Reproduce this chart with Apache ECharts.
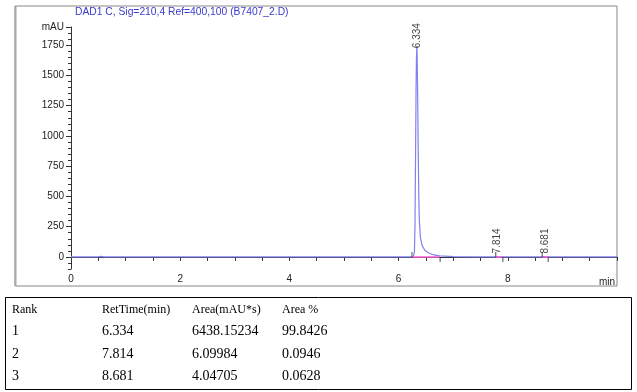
<!DOCTYPE html>
<html><head><meta charset="utf-8">
<script src="https://cdn.jsdelivr.net/npm/echarts@6/dist/echarts.min.js"></script>
<style>html,body{margin:0;padding:0;background:#fff}#c{width:637px;height:392px}</style>
</head><body><div id="c"></div>
<script>
const titleText = 'DAD1 C, Sig=210,4 Ref=400,100 (B7407_2.D)';
const timeMin   = [0, 0.3, 0.5, 0.53, 0.55, 0.57, 0.6, 1.0, 2.0, 3.0, 4.0, 5.0, 6.0, 6.2, 6.27, 6.29, 6.30, 6.31, 6.32, 6.327, 6.334, 6.34, 6.35, 6.36, 6.37, 6.38, 6.40, 6.43, 6.48, 6.55, 6.65, 6.75, 7.0, 7.5, 7.78, 7.814, 7.86, 8.2, 8.63, 8.681, 8.72, 9.0, 9.5, 10.0];
const signalMAU = [0.5, 0.5, 0, -4, 5, -3, 0.5, 1, 0.5, 0.5, 0.5, 0.5, 0.5, 1, 3, 40, 250, 800, 1400, 1650, 1740, 1660, 1300, 850, 500, 300, 160, 95, 55, 32, 16, 8, 3, 1, 0.5, 4, 0.5, 0.5, 0.5, 3, 0.5, 0.5, 1, 0];
const peakRT     = [6.334, 7.814, 8.681];
const peakHeight = [1700, 4, 3];
const intStart   = [6.245, 7.78, 8.63];
const intEnd     = [6.76, 7.91, 8.74];
const yTickValues  = [0, 250, 500, 750, 1000, 1250, 1500, 1750, 1900];
const xLabelValues = [0, 2, 4, 6, 8];
const tableHeader   = ['Rank', 'RetTime(min)', 'Area(mAU*s)', 'Area %'];
const tableRank     = ['1', '2', '3'];
const tableRetTime  = ['6.334', '7.814', '8.681'];
const tableArea     = ['6438.15234', '6.09984', '4.04705'];
const tableAreaPct  = ['99.8426', '0.0946', '0.0628'];

const chart = echarts.init(document.getElementById('c'));
const lineData = timeMin.map((t, i) => [t, signalMAU[i]]);
const pinkSeries = intStart.map((s, i) => ({
  type: 'line', data: [[s, 0], [intEnd[i], 0]], symbol: 'none', silent: true, z: 4,
  lineStyle: { color: '#ff5fd0', width: 1.5 }
}));

const colX = [12, 102, 192, 282];
const rowY = [310, 331, 354, 376];
const tableCols = [tableRank, tableRetTime, tableArea, tableAreaPct];
const graphics = [
  { type: 'rect', shape: { x: 15, y: 6, width: 602, height: 280 }, style: { fill: 'none', stroke: '#888', lineWidth: 1 }, z: 0 },
  { type: 'line', shape: { x1: 15.5, y1: 6, x2: 15.5, y2: 286 }, style: { stroke: '#aaa', lineWidth: 2 } },
  { type: 'rect', shape: { x: 5.5, y: 297.5, width: 626, height: 92 }, style: { fill: 'none', stroke: '#000', lineWidth: 1 } },
  { type: 'text', x: 615, y: 282, style: { text: 'min', font: '10px "Liberation Sans", Arial', fill: '#222', align: 'right', verticalAlign: 'middle' } }
];
tableHeader.forEach((h, c) => graphics.push({ type: 'text', x: colX[c], y: rowY[0], style: { text: h, font: '12px "Liberation Serif", serif', fill: '#000', verticalAlign: 'middle' } }));
tableCols.forEach((col, c) => col.forEach((v, r) => graphics.push({ type: 'text', x: colX[c], y: rowY[r + 1], style: { text: v, font: '14px "Liberation Serif", serif', fill: '#000', verticalAlign: 'middle' } })));

chart.setOption({
  animation: false,
  backgroundColor: '#fff',
  title: { text: titleText, left: 70, top: 2, textStyle: { fontSize: 10.3, fontWeight: 'normal', color: '#3a3ad0', fontFamily: '"Liberation Sans", Arial' } },
  grid: { left: 71, right: 20, top: 27, bottom: 123, containLabel: false },
  xAxis: {
    type: 'value', min: 0, max: 10, interval: 0.5,
    axisLine: { lineStyle: { color: '#333', width: 1 } },
    axisTick: { show: true, length: 4, lineStyle: { color: '#333' } },
    axisLabel: { customValues: xLabelValues, fontSize: 10, color: '#222', margin: 5, fontFamily: '"Liberation Sans", Arial' },
    splitLine: { show: false }
  },
  yAxis: [{
    type: 'value', min: -100, max: 1900, position: 'left',
    axisLine: { show: true, lineStyle: { color: '#333', width: 1 } },
    axisTick: { show: true, customValues: yTickValues, length: 5, lineStyle: { color: '#333' } },
    axisLabel: { customValues: yTickValues, formatter: v => v === 1900 ? 'mAU' : String(v), fontSize: 10, color: '#222', margin: 7, fontFamily: '"Liberation Sans", Arial' },
    splitLine: { show: false }
  }, {
    type: 'value', min: -100, max: 1900, interval: 50, position: 'left', offset: 0,
    axisLine: { show: false },
    axisTick: { show: true, length: 3, lineStyle: { color: '#333' } },
    axisLabel: { show: false },
    splitLine: { show: false }
  }],
  series: [
    { type: 'line', data: lineData, symbol: 'none', z: 3, lineStyle: { color: '#8080f2', width: 1.2 } },
    ...pinkSeries,
    { type: 'scatter', data: intStart.map(s => [s, 0]), symbol: 'rect', symbolSize: [1, 5], symbolOffset: [0, -2.5], itemStyle: { color: '#222' }, z: 5, silent: true },
    { type: 'scatter', data: intEnd.map(s => [s, 0]), symbol: 'rect', symbolSize: [1, 5], symbolOffset: [0, 2.5], itemStyle: { color: '#222' }, z: 5, silent: true },
    { type: 'scatter', data: peakRT.map((t, i) => [t, peakHeight[i]]), symbolSize: 0, z: 6, silent: true,
      label: { show: true, position: 'top', distance: 3, rotate: 90, align: 'left', verticalAlign: 'middle',
        formatter: p => p.value[0].toFixed(3), fontSize: 10, color: '#111', fontFamily: '"Liberation Sans", Arial' } }
  ],
  graphic: graphics
});
</script></body></html>
